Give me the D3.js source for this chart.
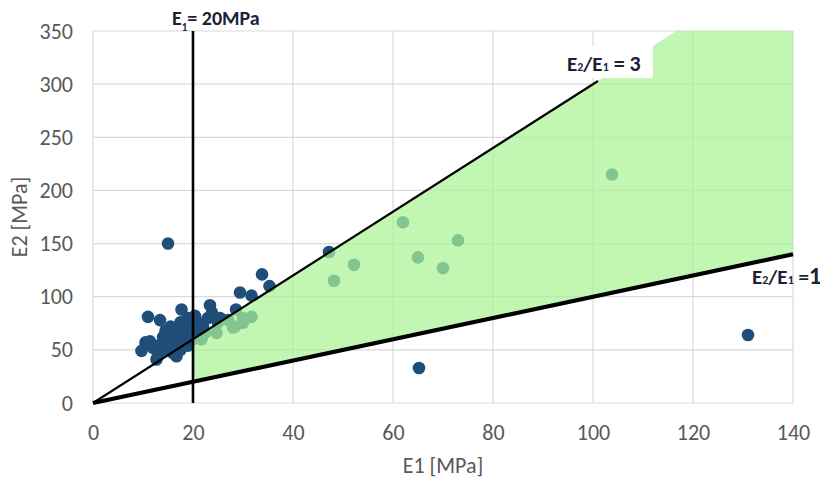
<!DOCTYPE html>
<html>
<head>
<meta charset="utf-8">
<script src="https://cdn.jsdelivr.net/npm/d3@7"></script>
<style>
  html, body { margin: 0; padding: 0; background: #fff; }
  svg { display: block; }
  text { font-family: Carlito, Calibri, Lato, sans-serif; }
</style>
</head>
<body>
<svg id="chart" width="820" height="479"></svg>
<script>
// Modulus pairs (E1, E2) in MPa
const e1 = [9.7, 10.5, 11, 11.4, 12, 12.7, 13, 13.4, 13.5, 14, 14.5, 14.7, 15, 15, 15.5, 16, 16, 16.5,
  16.7, 17, 17.5, 17.7, 17.5, 18, 18, 18.5, 19, 19, 19.5, 20, 20.4, 20.5, 21, 21.7, 22, 22.4, 23,
  23.4, 23.8, 24.7, 25, 25.4, 27, 28, 28.4, 28.6, 29.4, 30, 30, 31.7, 31.7, 33.8, 35.3,
  15, 47.2, 48.2, 52.2, 62, 65, 70, 73, 103.8, 65.2, 131];
const e2 = [49, 57, 81, 58, 52, 41, 45, 78, 55, 62, 68, 50, 58, 65, 72, 47, 60, 55,
  44, 66, 76, 88, 50, 70, 58, 63, 80, 54, 74, 60, 82, 68, 76, 60, 72, 66, 80,
  92, 85, 66, 76, 80, 78, 71, 72, 88, 104, 75.5, 80, 81, 101, 121, 110,
  150, 142, 115, 130, 170, 137, 127, 153, 215, 33, 64];

const xTicks = [0, 20, 40, 60, 80, 100, 120, 140];
const yTicks = [0, 50, 100, 150, 200, 250, 300, 350];

// Reference limits
const e1Limit = 20;       // E1 = 20 MPa
const ratioHigh = 3;      // E2/E1 = 3
const ratioLow = 1;       // E2/E1 = 1

const svg = d3.select("#chart");
const m = { left: 93, right: 27, top: 31, bottom: 76 };
const W = 820, H = 479;
const font = "Carlito, Calibri, Lato, sans-serif";

const x = d3.scaleLinear().domain([0, 140]).range([m.left, W - m.right]);
const y = d3.scaleLinear().domain([0, 350]).range([H - m.bottom, m.top]);

// Gridlines
const grid = svg.append("g");
grid.selectAll("line.v").data(xTicks).join("line")
  .attr("x1", d => x(d)).attr("x2", d => x(d))
  .attr("y1", y(0)).attr("y2", y(350))
  .attr("stroke", "#d9d9d9").attr("stroke-width", 1.2);
grid.selectAll("line.h").data(yTicks).join("line")
  .attr("x1", x(0)).attr("x2", x(140))
  .attr("y1", d => y(d)).attr("y2", d => y(d))
  .attr("stroke", "#d9d9d9").attr("stroke-width", 1.2);

// Axis tick labels
const xAxis = d3.axisBottom(x).tickValues(xTicks).tickSize(0).tickPadding(21);
svg.append("g").attr("transform", `translate(0,${y(0)})`).call(xAxis)
  .call(g => g.select(".domain").remove())
  .call(g => g.selectAll("text").attr("fill", "#595959").style("font-size", "22px")
    .style("font-family", font));

const yAxis = d3.axisLeft(y).tickValues(yTicks).tickSize(0).tickPadding(20);
svg.append("g").attr("transform", `translate(${x(0)},0)`).call(yAxis)
  .call(g => g.select(".domain").remove())
  .call(g => g.selectAll("text").attr("fill", "#595959").style("font-size", "22px")
    .style("font-family", font));

// Axis titles
svg.append("text").attr("x", (x(0) + x(140)) / 2).attr("y", 473)
  .attr("text-anchor", "middle").attr("fill", "#595959").style("font-size", "22px")
  .text("E1 [MPa]");
svg.append("text")
  .attr("transform", `translate(27,${(y(0) + y(350)) / 2}) rotate(-90)`)
  .attr("text-anchor", "middle").attr("fill", "#595959").style("font-size", "22px")
  .text("E2 [MPa]");

// Data points
svg.append("g").selectAll("circle").data(e1.map((v, i) => [v, e2[i]])).join("circle")
  .attr("cx", d => x(d[0])).attr("cy", d => y(d[1])).attr("r", 6.3)
  .attr("fill", "#1f4e79");

// Accepted zone: E1 >= 20 and 1 <= E2/E1 <= 3 (translucent overlay)
const zone = [
  [e1Limit, e1Limit * ratioLow],
  [e1Limit, e1Limit * ratioHigh],
  [350 / ratioHigh, 350],
  [140, 350],
  [140, 140 * ratioLow]
];
svg.append("path")
  .attr("d", d3.line().x(d => x(d[0])).y(d => y(d[1]))(zone) + "Z")
  .attr("fill", "#a9f496").attr("fill-opacity", 0.72);

// Limit lines
svg.append("line")
  .attr("x1", x(e1Limit)).attr("x2", x(e1Limit)).attr("y1", y(0)).attr("y2", y(350))
  .attr("stroke", "#000").attr("stroke-width", 2.6);
svg.append("line")
  .attr("x1", x(0)).attr("y1", y(0)).attr("x2", x(101)).attr("y2", y(101 * ratioHigh))
  .attr("stroke", "#000").attr("stroke-width", 2.2);
svg.append("line")
  .attr("x1", x(0)).attr("y1", y(0)).attr("x2", x(140)).attr("y2", y(140 * ratioLow))
  .attr("stroke", "#000").attr("stroke-width", 4.2);

// Annotations
const labelColor = "#1c2238";

function ratioLabel(g, sub1, sub2, tail, tailSize) {
  const t = g.append("text").attr("fill", labelColor).style("font-weight", "bold")
    .style("font-size", "21px");
  t.append("tspan").text("E");
  t.append("tspan").text(sub1).style("font-size", "12px");
  t.append("tspan").text("/E");
  t.append("tspan").text(sub2).style("font-size", "12px");
  t.append("tspan").text(tail).style("font-size", tailSize);
  return t;
}

// E1 = 20 MPa
const e1Label = svg.append("text").attr("x", 172).attr("y", 25)
  .attr("fill", labelColor).style("font-weight", "bold").style("font-size", "20px");
e1Label.append("tspan").text("E");
e1Label.append("tspan").text("1").style("font-size", "11px").attr("dy", 6);
e1Label.append("tspan").text("= 20MPa").attr("dy", -6);

// E2/E1 = 3 on a white label box
svg.append("rect").attr("x", 558).attr("y", 46).attr("width", 95).attr("height", 32)
  .attr("fill", "#fff");
ratioLabel(svg, "2", "1", " = 3", "22px").attr("x", 567).attr("y", 71);

// E2/E1 = 1
ratioLabel(svg, "2", "1", " =", "21px").attr("x", 752).attr("y", 284)
  .append("tspan").text("1").style("font-size", "24px");
</script>
</body>
</html>
